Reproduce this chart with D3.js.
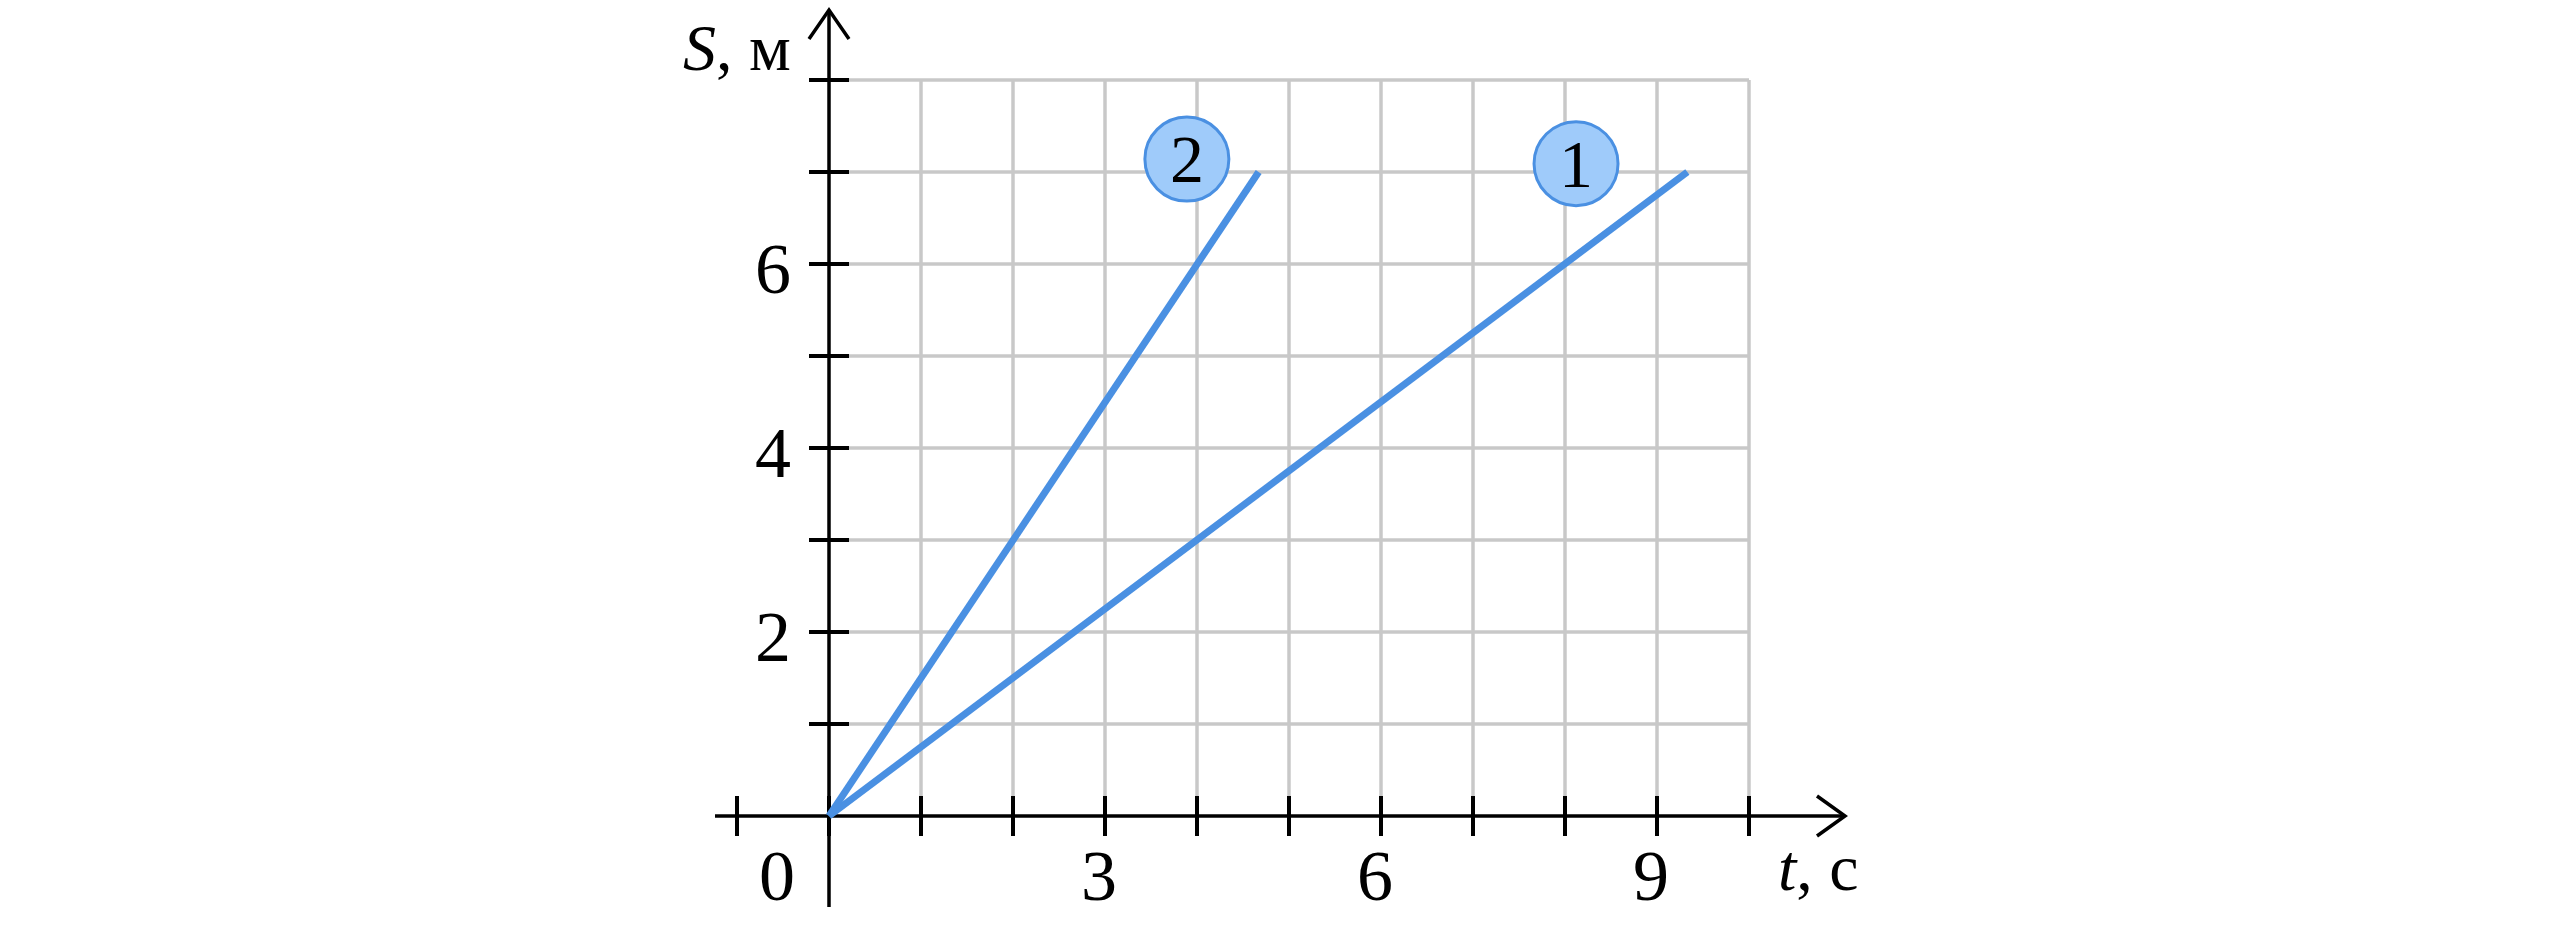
<!DOCTYPE html>
<html>
<head>
<meta charset="utf-8">
<script src="https://cdn.jsdelivr.net/npm/d3@7"></script>
<style>
  html, body { margin: 0; padding: 0; background: #fff; }
  svg { display: block; }
  text { font-family: "Liberation Serif", "DejaVu Serif", serif; fill: #000; }
</style>
</head>
<body>
<svg id="chart" width="2550" height="936"></svg>
<script>
// ---- data ----
const tGridValues = [1, 2, 3, 4, 5, 6, 7, 8, 9, 10];
const sGridValues = [1, 2, 3, 4, 5, 6, 7, 8];
const tTickValues = [-1, 0, 1, 2, 3, 4, 5, 6, 7, 8, 9, 10];
const sTickValues = [1, 2, 3, 4, 5, 6, 7, 8];
const tTickLabels = ["0", "3", "6", "9"];
const tTickLabelValues = [0, 3, 6, 9];
const sTickLabels = ["2", "4", "6"];
const sTickLabelValues = [2, 4, 6];
const seriesNames = ["1", "2"];
const series1 = [[0, 0], [9.33, 7]];
const series2 = [[0, 0], [4.67, 7]];
const labelPositions = [[8.12, 7.09], [3.89, 7.14]];

// ---- layout ----
const svg = d3.select("#chart");
const x = d3.scaleLinear().domain([0, 10]).range([829, 1749]);
const y = d3.scaleLinear().domain([0, 8]).range([816, 80]);

const gridColor = "#c8c8c8";
const lineColor = "#4a90e2";

// grid
const grid = svg.append("g");
grid.selectAll("line.v").data(tGridValues).enter().append("line")
  .attr("x1", d => x(d)).attr("x2", d => x(d))
  .attr("y1", y(0)).attr("y2", y(8))
  .attr("stroke", gridColor).attr("stroke-width", 3.5);
grid.selectAll("line.h").data(sGridValues).enter().append("line")
  .attr("x1", x(0)).attr("x2", x(10))
  .attr("y1", d => y(d)).attr("y2", d => y(d))
  .attr("stroke", gridColor).attr("stroke-width", 3.5);

// axes lines
const axes = svg.append("g").attr("stroke", "#000").attr("fill", "none");
axes.append("line").attr("x1", 715).attr("x2", 1845).attr("y1", y(0)).attr("y2", y(0)).attr("stroke-width", 3.5);
axes.append("line").attr("x1", x(0)).attr("x2", x(0)).attr("y1", 907).attr("y2", 10).attr("stroke-width", 3.5);
// arrows
axes.append("path").attr("d", `M1817,${y(0) - 20} L1845,${y(0)} L1817,${y(0) + 20}`).attr("stroke-width", 3.5);
axes.append("path").attr("d", `M${x(0) - 20},39 L${x(0)},10 L${x(0) + 20},39`).attr("stroke-width", 3.5);

// ticks
axes.selectAll("line.tt").data(tTickValues).enter().append("line")
  .attr("x1", d => x(d)).attr("x2", d => x(d))
  .attr("y1", y(0) - 20).attr("y2", y(0) + 20).attr("stroke-width", 4);
axes.selectAll("line.st").data(sTickValues).enter().append("line")
  .attr("x1", x(0) - 20).attr("x2", x(0) + 20)
  .attr("y1", d => y(d)).attr("y2", d => y(d)).attr("stroke-width", 4);

// tick labels
const labels = svg.append("g").attr("font-size", 72);
labels.selectAll("text.tl").data(tTickLabels).enter().append("text")
  .attr("x", (d, i) => tTickLabelValues[i] === 0 ? x(0) - 52 : x(tTickLabelValues[i]) - 6)
  .attr("y", 900)
  .attr("text-anchor", "middle")
  .text(d => d);
labels.selectAll("text.sl").data(sTickLabels).enter().append("text")
  .attr("x", 791)
  .attr("y", (d, i) => y(sTickLabelValues[i]) + 29)
  .attr("text-anchor", "end")
  .text(d => d);

// axis titles
const tTitle = svg.append("text").attr("x", 1778).attr("y", 890).attr("font-size", 66);
tTitle.append("tspan").attr("font-style", "italic").text("t");
tTitle.append("tspan").text(", c");
const sTitle = svg.append("text").attr("x", 683).attr("y", 70).attr("font-size", 66);
sTitle.append("tspan").attr("font-style", "italic").text("S");
sTitle.append("tspan").text(", м");

// series lines
const line = d3.line().x(d => x(d[0])).y(d => y(d[1]));
svg.append("g").selectAll("path").data([series1, series2]).enter().append("path")
  .attr("d", line)
  .attr("fill", "none").attr("stroke", lineColor).attr("stroke-width", 7);

// series labels
const lab = svg.append("g").selectAll("g").data(seriesNames).enter().append("g")
  .attr("transform", (d, i) => `translate(${x(labelPositions[i][0])},${y(labelPositions[i][1])})`);
lab.append("circle").attr("r", 42).attr("fill", "#9fcbfa").attr("stroke", lineColor).attr("stroke-width", 3);
lab.append("text").attr("text-anchor", "middle").attr("y", 23).attr("font-size", 68).text(d => d);
</script>
</body>
</html>
